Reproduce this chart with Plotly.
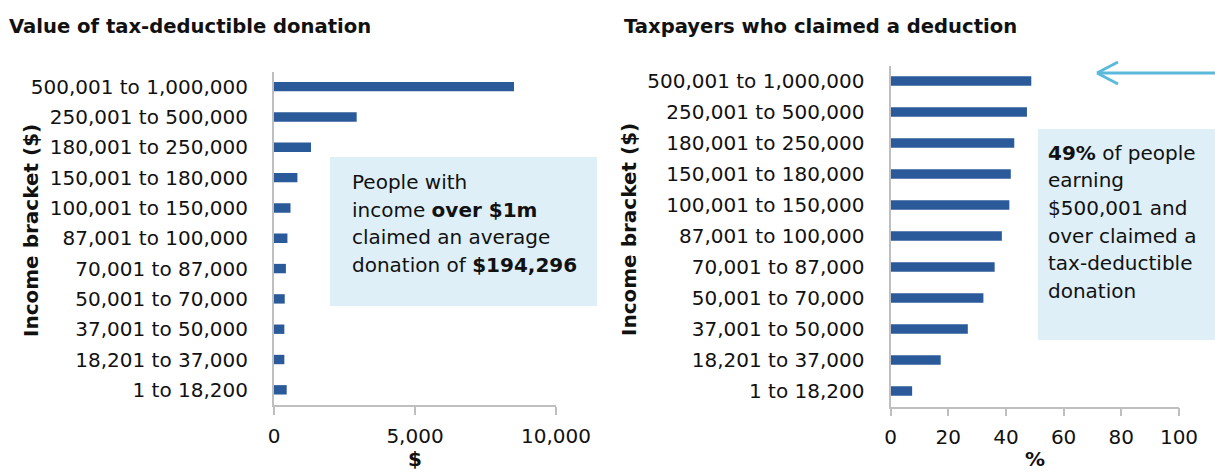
import plotly.graph_objects as go

categories = [
    "500,001 to 1,000,000", "250,001 to 500,000", "180,001 to 250,000",
    "150,001 to 180,000", "100,001 to 150,000", "87,001 to 100,000",
    "70,001 to 87,000", "50,001 to 70,000", "37,001 to 50,000",
    "18,201 to 37,000", "1 to 18,200",
]
donation_value = [8510, 2932, 1312, 830, 585, 476, 422, 381, 367, 367, 450]
claimed_pct = [48.8, 47.3, 42.9, 41.7, 41.2, 38.6, 36.1, 32.2, 26.8, 17.4, 7.5]

left_ticks = [0, 5000, 10000]
left_ticktext = ["0", "5,000", "10,000"]
right_ticks = [0, 20, 40, 60, 80, 100]

W, H = 1215, 474
BAR = "#2B5A9A"
BOX = "#DEEFF7"
AXIS = "#BFBFBF"
ARROW = "#5BB9DC"
FONT = "DejaVu Sans"
TXT = "#111111"


def px(x):
    return x / W


def py(y):
    return 1 - y / H


fig = go.Figure()
fig.add_trace(go.Bar(x=donation_value, y=categories, orientation="h",
                     marker=dict(color=BAR, line=dict(width=0)), width=0.31,
                     xaxis="x", yaxis="y", showlegend=False))
fig.add_trace(go.Bar(x=claimed_pct, y=categories, orientation="h",
                     marker=dict(color=BAR, line=dict(width=0)), width=0.31,
                     xaxis="x2", yaxis="y2", showlegend=False))

tickfont = dict(family=FONT, size=20, color=TXT)

yax_common = dict(type="category", autorange="reversed", showgrid=False,
                  showline=True, linecolor=AXIS, linewidth=2, ticks="",
                  tickfont=tickfont, ticklabelstandoff=20, zeroline=False,
                  automargin=False)
xax_common = dict(showgrid=False, showline=True, linecolor=AXIS, linewidth=1.5,
                  ticks="outside", ticklen=8, tickcolor=AXIS, tickwidth=1.5,
                  tickfont=tickfont, zeroline=False, ticklabelstandoff=4,
                  automargin=False)

fig.update_layout(
    width=W, height=H, autosize=False,
    margin=dict(l=0, r=0, t=0, b=0, pad=0),
    paper_bgcolor="white", plot_bgcolor="rgba(0,0,0,0)",
    xaxis=dict(domain=[px(274), px(556)], range=[0, 10000],
               tickvals=left_ticks, ticktext=left_ticktext, anchor="y",
               **xax_common),
    yaxis=dict(domain=[py(405), py(71.5)], anchor="x", **yax_common),
    xaxis2=dict(domain=[px(890.5), px(1179)], range=[0, 100],
                tickvals=right_ticks, anchor="y2", **xax_common),
    yaxis2=dict(domain=[py(406.5), py(65.5)], anchor="x2", **yax_common),
)

shapes = [
    dict(type="rect", xref="paper", yref="paper", x0=px(330), x1=px(597),
         y0=py(306), y1=py(157), fillcolor=BOX, line=dict(width=0), layer="below"),
    dict(type="rect", xref="paper", yref="paper", x0=px(1038), x1=px(1215),
         y0=py(340), y1=py(129), fillcolor=BOX, line=dict(width=0), layer="below"),
    dict(type="line", xref="paper", yref="paper", x0=px(1098), x1=px(1215),
         y0=py(73), y1=py(73), line=dict(color=ARROW, width=3)),
    dict(type="line", xref="paper", yref="paper", x0=px(1097), x1=px(1118),
         y0=py(73), y1=py(62), line=dict(color=ARROW, width=3)),
    dict(type="line", xref="paper", yref="paper", x0=px(1097), x1=px(1118),
         y0=py(73), y1=py(84), line=dict(color=ARROW, width=3)),
]
fig.update_layout(shapes=shapes)

annotations = []


def text(x, y, s, size=20, xanchor="left", angle=0, bold=False):
    if bold:
        s = "<b>" + s + "</b>"
    annotations.append(dict(x=px(x), y=py(y), xref="paper", yref="paper",
                            text=s, showarrow=False, xanchor=xanchor,
                            yanchor="middle", textangle=angle, borderpad=0,
                            font=dict(family=FONT, size=size, color=TXT)))


text(8, 27, "Value of tax-deductible donation", size=19.6, bold=True)
text(623, 27, "Taxpayers who claimed a deduction", size=19.6, bold=True)
text(31, 231, "Income bracket ($)", size=20, angle=-90, xanchor="center", bold=True)
text(629, 230, "Income bracket ($)", size=20, angle=-90, xanchor="center", bold=True)
text(415, 459, "$", size=20, xanchor="center", bold=True)
text(1035, 459, "%", size=20, xanchor="center", bold=True)

left_lines = ["People with", "income <b>over $1m</b>", "claimed an average",
              "donation of <b>$194,296</b>"]
for i, line in enumerate(left_lines):
    text(351, 182 + i * 27.7, line)

right_lines = ["<b>49%</b> of people", "earning", "$500,001 and",
               "over claimed a", "tax-deductible", "donation"]
for i, line in enumerate(right_lines):
    text(1047, 153 + i * 27.5, line)

fig.update_layout(annotations=annotations)

post = (
    "document.documentElement.style.margin='0';"
    "document.documentElement.style.overflow='hidden';"
    "document.body.style.margin='0';"
    "document.body.style.padding='0';"
    "document.body.style.overflow='hidden';"
)

fig.write_html("out.html", post_script=post,
               config={"responsive": False, "displayModeBar": False})
